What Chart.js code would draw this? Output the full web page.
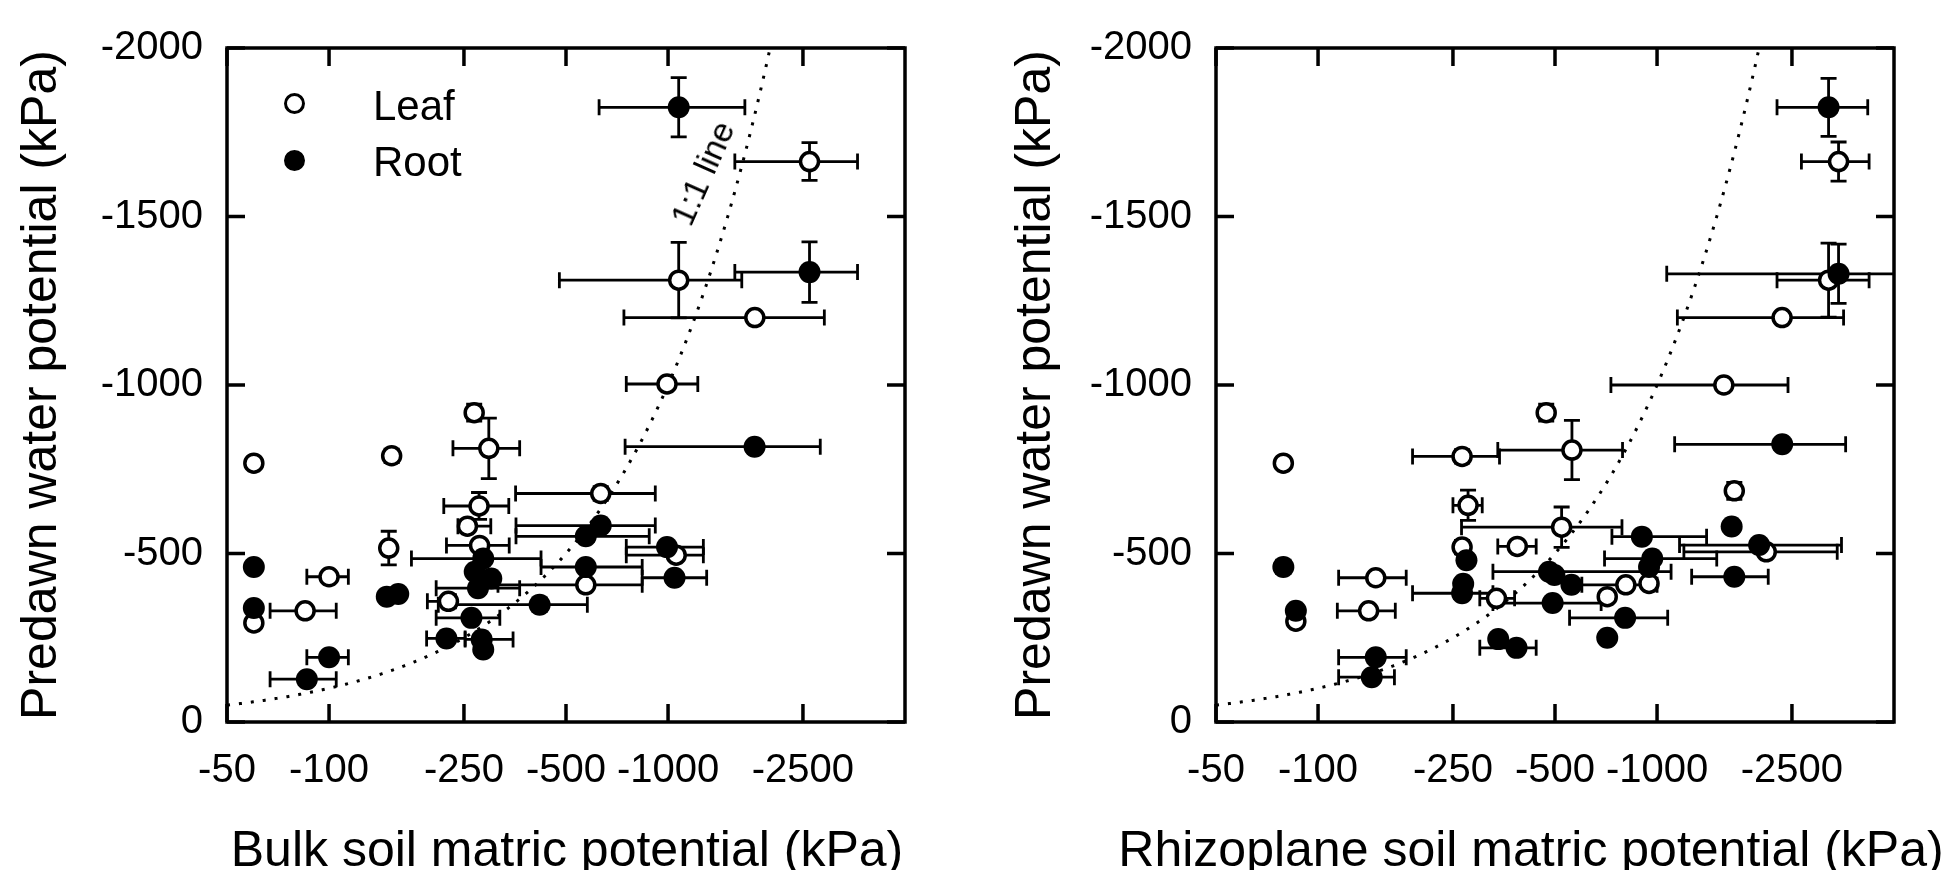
<!DOCTYPE html>
<html>
<head>
<meta charset="utf-8">
<title>Predawn water potential vs soil matric potential</title>
<script src="https://cdn.jsdelivr.net/npm/chart.js@4.4.1/dist/chart.umd.min.js"></script>
<style>
  body { margin: 0; background: #fff; width: 1953px; height: 870px; overflow: hidden; position: relative;
         font-family: "Liberation Sans", Arial, sans-serif; color: #000; }
  .panel { position: absolute; top: 0; height: 870px; }
  #panelBulk { left: 0; width: 960px; }
  #panelRhizo { left: 960px; width: 993px; }
  .xtitle { position: absolute; top: 824px; font-size: 50px; line-height: 50px; white-space: nowrap; transform: translateX(-50%); }
  .mark { position: absolute; width: 21px; height: 21px; box-sizing: border-box; border: 3.5px solid #000; border-radius: 50%; background: #fff; }
  .mark.filled { background: #000; }
  .leg { position: absolute; font-size: 42px; line-height: 42px; }
  .oneone { position: absolute; font-size: 34px; line-height: 34px; white-space: nowrap; transform: translate(-50%, -50%) rotate(-66deg); }
</style>
</head>
<body>

<div class="panel" id="panelBulk"><canvas id="bulk" width="960" height="870"></canvas></div>
<div class="panel" id="panelRhizo"><canvas id="rhizo" width="993" height="870"></canvas></div>

<div class="xtitle" style="left:567px">Bulk soil matric potential (kPa)</div>
<div class="xtitle" style="left:1531px">Rhizoplane soil matric potential (kPa)</div>

<div class="mark" style="left:284px; top:93px"></div>
<div class="leg" style="left:373px; top:85px">Leaf</div>
<div class="mark filled" style="left:284px; top:150px"></div>
<div class="leg" style="left:373px; top:141px">Root</div>
<div class="oneone" style="left:702px; top:173px">1:1 line</div>

<script>
// [soil potential, predawn potential, x error low, x error high, y error] in kPa
const bulkLeaf = [
  [-60, -768, null, null, 15], [-60, -294, null, null, 10],
  [-100, -431, -86, -114, 0], [-85, -330, -67, -105, 0],
  [-153, -790, null, null, 20], [-150, -516, null, null, 50],
  [-268, -918, null, null, 25], [-296, -812, -232, -365, 90],
  [-277, -641, -218, -339, 40], [-256, -581, -240, -300, 0],
  [-278, -524, -222, -340, 0], [-225, -358, -195, -236, 0],
  [-633, -678, -355, -917, 20], [-572, -407, -315, -839, 0],
  [-993, -1003, -753, -1224, 0], [-1057, -495, -753, -1271, 0],
  [-1803, -1200, -741, -2891, 0], [-1075, -1311, -478, -1650, 112],
  [-2614, -1663, -1574, -3622, 56]
];
const bulkRoot = [
  [-60, -460, null, null, 15], [-60, -338, null, null, 0],
  [-100, -192, -86, -114, 0], [-86, -127, -67, -105, 0],
  [-148, -372, null, null, 0], [-160, -380, null, null, 0],
  [-285, -485, -175, -422, 0], [-269, -446, null, null, 0],
  [-301, -426, null, null, 0], [-275, -397, -207, -365, 0],
  [-263, -309, -207, -319, 0], [-222, -248, -194, -252, 0],
  [-282, -245, -252, -349, 15], [-285, -215, null, null, 15],
  [-418, -348, -210, -578, 20], [-633, -583, -356, -917, 0],
  [-572, -551, -356, -880, 0], [-572, -460, -422, -839, 0],
  [-993, -519, -753, -1271, 0], [-1045, -428, -839, -1300, 0],
  [-1800, -817, -747, -2812, 0], [-1075, -1824, -626, -1685, 88],
  [-2614, -1335, -1574, -3622, 90]
];
const rhizoLeaf = [
  [-79, -768, null, null, 15], [-266, -788, -190, -343, 20],
  [-561, -807, -339, -791, 88], [-471, -918, null, null, 25],
  [-277, -643, -250, -305, 45], [-523, -578, -265, -788, 60],
  [-266, -519, null, null, 20], [-387, -521, -339, -440, 0],
  [-148, -428, -115, -182, 0], [-141, -330, -114, -169, 0],
  [-86, -299, null, null, 10], [-336, -367, -300, -380, 0],
  [-713, -372, null, null, 0], [-809, -407, -600, -1000, 0],
  [-947, -411, null, null, 0], [-1574, -1000, -731, -2434, 0],
  [-2338, -1200, -1148, -3550, 0], [-3206, -1311, -2259, -4222, 110],
  [-3431, -1663, -2666, -4222, 58], [-1690, -686, null, null, 25],
  [-2100, -505, -1200, -3400, 0]
];
const rhizoRoot = [
  [-79, -460, null, null, 20], [-86, -330, null, null, 15],
  [-148, -192, -115, -182, 0], [-144, -133, -115, -168, 0],
  [-274, -480, null, null, 0], [-266, -382, -190, -328, 0],
  [-268, -410, null, null, 0], [-340, -246, null, null, 0],
  [-385, -220, -300, -440, 0], [-480, -446, -328, -1100, 0],
  [-559, -407, null, null, 0], [-498, -436, null, null, 0],
  [-492, -353, -328, -684, 0], [-902, -550, -736, -1400, 0],
  [-968, -485, -700, -1500, 0], [-947, -460, null, null, 0],
  [-805, -309, -552, -1075, 0], [-713, -250, null, null, 0],
  [-1660, -580, null, null, 0], [-2000, -525, -1165, -3500, 0],
  [-1690, -431, -1265, -2128, 0], [-2340, -824, -1127, -3600, 0],
  [-3206, -1824, -2259, -4183, 86], [-3431, -1330, -1068, -6000, 88]
];
const xTicks = [50, 100, 250, 500, 1000, 2500];
const yTicks = [-2000, -1500, -1000, -500, 0];
const xRange = [50, 5000];

const FONT = "'Liberation Sans', Arial, sans-serif";
const CAP = 8;

const errorBars = {
  id: 'errorBars',
  beforeDatasetsDraw(chart) {
    const { ctx, chartArea: a, scales: { x, y } } = chart;
    ctx.save();
    ctx.beginPath();
    ctx.rect(a.left, a.top, a.right - a.left, a.bottom - a.top);
    ctx.clip();
    ctx.strokeStyle = '#000';
    ctx.lineWidth = 2.8;
    chart.data.datasets.forEach(ds => {
      (ds.errors || []).forEach(([vx, vy, lo, hi, ey]) => {
        const px = x.getPixelForValue(-vx), py = y.getPixelForValue(vy);
        ctx.beginPath();
        if (lo !== null) {
          const x0 = x.getPixelForValue(-lo), x1 = x.getPixelForValue(-hi);
          ctx.moveTo(x0, py); ctx.lineTo(x1, py);
          ctx.moveTo(x0, py - CAP); ctx.lineTo(x0, py + CAP);
          ctx.moveTo(x1, py - CAP); ctx.lineTo(x1, py + CAP);
        }
        if (ey) {
          const y0 = y.getPixelForValue(vy - ey), y1 = y.getPixelForValue(vy + ey);
          ctx.moveTo(px, y0); ctx.lineTo(px, y1);
          ctx.moveTo(px - CAP, y0); ctx.lineTo(px + CAP, y0);
          ctx.moveTo(px - CAP, y1); ctx.lineTo(px + CAP, y1);
        }
        ctx.stroke();
      });
    });
    ctx.restore();
  }
};

// dotted 1:1 line (equal potentials), drawn through the chart scales
const oneToOne = {
  id: 'oneToOne',
  beforeDatasetsDraw(chart) {
    const { ctx, chartArea: a, scales: { x, y } } = chart;
    ctx.save();
    ctx.beginPath();
    ctx.rect(a.left, a.top, a.right - a.left, a.bottom - a.top);
    ctx.clip();
    ctx.strokeStyle = '#000';
    ctx.lineWidth = 3;
    ctx.setLineDash([3, 9]);
    ctx.beginPath();
    for (let v = xRange[0]; v <= 2100; v *= 1.01) {
      const px = x.getPixelForValue(v), py = y.getPixelForValue(-v);
      if (v === xRange[0]) ctx.moveTo(px, py); else ctx.lineTo(px, py);
    }
    ctx.stroke();
    ctx.restore();
  }
};

const frame = {
  id: 'frame',
  afterDraw(chart) {
    const { ctx, chartArea: a, scales: { x, y } } = chart;
    ctx.save();
    ctx.strokeStyle = '#000';
    ctx.lineWidth = 3.5;
    ctx.strokeRect(a.left, a.top, a.right - a.left, a.bottom - a.top);
    ctx.beginPath();
    xTicks.forEach(v => {
      const px = x.getPixelForValue(v);
      ctx.moveTo(px, a.bottom); ctx.lineTo(px, a.bottom - 18);
      ctx.moveTo(px, a.top); ctx.lineTo(px, a.top + 18);
    });
    yTicks.forEach(v => {
      const py = y.getPixelForValue(v);
      ctx.moveTo(a.left, py); ctx.lineTo(a.left + 18, py);
      ctx.moveTo(a.right, py); ctx.lineTo(a.right - 18, py);
    });
    ctx.stroke();
    ctx.restore();
  }
};

function toPoints(rows) {
  return rows.map(r => ({ x: -r[0], y: r[1] }));
}

function makeChart(id, leaf, root, yWidth, padRight, titlePad) {
  new Chart(document.getElementById(id), {
    type: 'scatter',
    data: {
      datasets: [
        { label: 'Root', data: toPoints(root), errors: root, pointRadius: 11, pointBorderWidth: 0,
          pointBackgroundColor: '#000', pointBorderColor: '#000' },
        { label: 'Leaf', data: toPoints(leaf), errors: leaf, pointRadius: 9, pointBorderWidth: 3.5,
          pointBackgroundColor: '#fff', pointBorderColor: '#000' }
      ]
    },
    options: {
      responsive: false,
      animation: false,
      devicePixelRatio: 1,
      layout: { padding: { top: 40, right: padRight, left: 0, bottom: 0 } },
      plugins: { legend: { display: false }, tooltip: { enabled: false } },
      scales: {
        x: {
          type: 'logarithmic', min: xRange[0], max: xRange[1],
          afterBuildTicks: s => { s.ticks = xTicks.map(v => ({ value: v })); },
          afterFit: s => { s.height = 148; },
          grid: { display: false, drawTicks: false },
          border: { display: false },
          ticks: { autoSkip: false, maxRotation: 0, minRotation: 0, padding: 25, color: '#000',
                   font: { family: FONT, size: 40 }, callback: v => '-' + v }
        },
        y: {
          min: -2000, max: 0, reverse: true,
          afterBuildTicks: s => { s.ticks = yTicks.map(v => ({ value: v })); },
          afterFit: s => { s.width = yWidth; },
          grid: { display: false, drawTicks: false },
          border: { display: false },
          ticks: { padding: 24, color: '#000', font: { family: FONT, size: 40 }, callback: v => String(v) },
          title: { display: true, text: 'Predawn water potential (kPa)', color: '#000',
                   font: { family: FONT, size: 50, lineHeight: 1 }, padding: { top: titlePad, bottom: 0 } }
        }
      }
    },
    plugins: [oneToOne, errorBars, frame]
  });
}

makeChart('bulk', bulkLeaf, bulkRoot, 227, 55, 17);
makeChart('rhizo', rhizoLeaf, rhizoRoot, 256, 59, 51);
</script>
</body>
</html>
